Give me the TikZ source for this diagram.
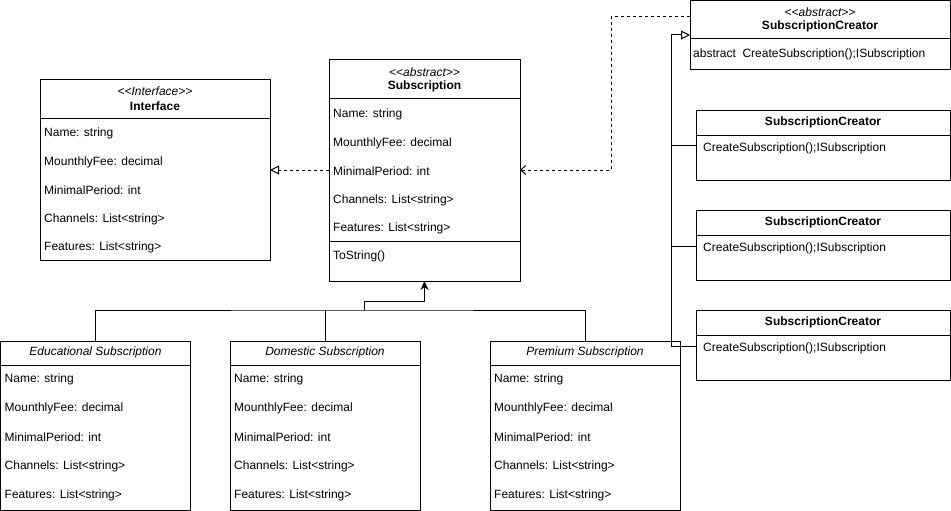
\documentclass[tikz,border=0pt]{standalone}
\usepackage{fontspec}
\setmainfont{Liberation Sans}
\usetikzlibrary{arrows.meta,calc}
\newcommand\fieldrows[3]{%
  \foreach \t [count=\k] in {Name: string,MounthlyFee: decimal,MinimalPeriod: int,Channels: List<string>,Features: List<string>}
   {\node[row] (#1-r\k) at ([xshift=4pt,yshift={-#2pt-(\k-1)*#3pt}]#1.north west) {\t};}}
\begin{document}
\begin{tikzpicture}[x=1pt,y=-1pt,
  cls/.style={draw,line width=1pt,inner sep=0pt,outer sep=0pt,anchor=north west},
  row/.style={inner sep=0pt,anchor=west,yshift=-1.5pt,font=\fontsize{12}{14}\selectfont},
  ttl/.style={inner sep=0pt,yshift=-1pt,font=\fontsize{12}{14}\selectfont\bfseries},
  ster/.style={inner sep=0pt,yshift=-1pt,font=\fontsize{12}{14}\selectfont\itshape},
  conn/.style={line width=1pt},
  dsh/.style={line width=1pt,dash pattern=on 3pt off 3pt},
  opentri/.style={-{Triangle[open,length=9pt,width=9pt]}},
  openarr/.style={-{Straight Barb[length=5pt,width=9pt]}},
  inh/.style={-{Stealth[length=9pt,width=8pt]}}]
\useasboundingbox (0,0) rectangle (951,511);

% Interface
\node[cls,minimum width=230pt,minimum height=180pt] (iface) at (40,80) {};
\draw[conn] ([yshift=-38pt]iface.north west) -- ([yshift=-38pt]iface.north east);
\node[ster] (iface-s) at ([yshift=-10pt]iface.north) {<{}<Interface>{}>};
\node[ttl] (iface-t) at ([yshift=-25pt]iface.north) {Interface};
\fieldrows{iface}{52}{28.5}

% Subscription
\node[cls,minimum width=191pt,minimum height=221pt] (sub) at (329,60) {};
\draw[conn] ([yshift=-39pt]sub.north west) -- ([yshift=-39pt]sub.north east);
\draw[conn] ([yshift=-181pt]sub.north west) -- ([yshift=-181pt]sub.north east);
\node[ster] (sub-s) at ([yshift=-11pt]sub.north) {<{}<abstract>{}>};
\node[ttl] (sub-t) at ([yshift=-25pt]sub.north) {Subscription};
\fieldrows{sub}{53}{28.5}
\node[row] (sub-m) at ([xshift=4pt,yshift=-195pt]sub.north west) {ToString()};

% Abstract creator
\node[cls,minimum width=260pt,minimum height=69pt] (scabs) at (690,1) {};
\draw[conn] ([yshift=-38pt]scabs.north west) -- ([yshift=-38pt]scabs.north east);
\node[ster] (scabs-s) at ([yshift=-10pt]scabs.north) {<{}<abstract>{}>};
\node[ttl] (scabs-t) at ([yshift=-24pt]scabs.north) {SubscriptionCreator};
\node[row] (scabs-m) at ([xshift=3pt,yshift=-52pt]scabs.north west) {abstract\ \ CreateSubscription();ISubscription};

% Concrete creators
\foreach \n/\y in {c2/110,c3/210,c4/310}{
  \node[cls,minimum width=254pt,minimum height=70pt] (\n) at (696,\y) {};
  \draw[conn] ([yshift=-25pt]\n.north west) -- ([yshift=-25pt]\n.north east);
  \node[ttl] (\n-t) at ([yshift=-11pt]\n.north) {SubscriptionCreator};
  \node[row] (\n-m) at ([xshift=7pt,yshift=-37pt]\n.north west) {CreateSubscription();ISubscription};
}

% Subclasses
\foreach \n/\x/\lab in {edu/0.5/Educational Subscription,dom/230/Domestic Subscription,prem/490/Premium Subscription}{
  \node[cls,minimum width=190pt,minimum height=169pt] (\n) at (\x,341) {};
  \draw[conn] ([yshift=-24pt]\n.north west) -- ([yshift=-24pt]\n.north east);
  \node[ster] (\n-t) at ([yshift=-10pt]\n.north) {\lab};
  \fieldrows{\n}{37}{29}
}

% Inheritance
\coordinate (jn) at (364,310);
\coordinate (jup) at (364,301);
\draw[conn] (edu.north) |- (jn) -- (prem.north |- jn) -- (prem.north);
\draw[conn] (dom.north) -- (dom.north |- jn);
\draw[conn,inh] (jn) -- (jup) -| (sub.south);

% Dashed realizations
\coordinate (dA) at (611,17);
\coordinate (dB) at (611,170);
\draw[dsh,openarr] (scabs.west |- dA) -- (dA) -- (dB) -- (sub.east |- dB);
\draw[dsh,opentri] (sub.west |- dB) -- (iface.east |- dB);

% Creator generalizations
\coordinate (vA) at (671,35);
\coordinate (v2) at (671,145);
\coordinate (v3) at (671,246);
\coordinate (v4) at (671,346);
\draw[conn,opentri] (c4.west |- v4) -- (v4) -- (vA) -- (scabs.west |- vA);
\draw[conn] (c3.west |- v3) -- (v3);
\draw[conn] (c2.west |- v2) -- (v2);
\end{tikzpicture}
\end{document}
